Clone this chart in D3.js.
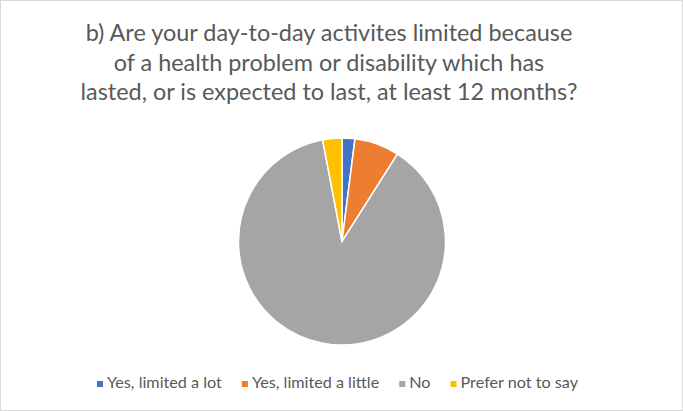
<!DOCTYPE html>
<html>
<head>
<meta charset="utf-8">
<script src="https://cdn.jsdelivr.net/npm/d3@7"></script>
<style>
  body { margin: 0; background: #fff; }
  svg { display: block; font-family: Lato, "Open Sans", sans-serif; }
</style>
</head>
<body>
<svg id="chart"></svg>
<script>
const categories = ["Yes, limited a lot", "Yes, limited a little", "No", "Prefer not to say"];
const values = [2, 7, 88, 3];
const colors = ["#4472c4", "#ed7d31", "#a5a5a5", "#ffc000"];
const titleLines = [
  "b) Are your day-to-day activites limited because",
  "of a health problem or disability which has",
  "lasted, or is expected to last, at least 12 months?"
];

const width = 683, height = 411;
const svg = d3.select("#chart").attr("width", width).attr("height", height);

// frame
svg.append("rect")
  .attr("x", 0.5).attr("y", 0.5)
  .attr("width", width - 1).attr("height", height - 1)
  .attr("fill", "#fff").attr("stroke", "#d9d9d9");

// title
const title = svg.append("g").attr("fill", "#595959").attr("text-anchor", "middle");
const tl = title.selectAll("text")
  .data(titleLines)
  .join("text")
  .attr("x", 329)
  .attr("y", (d, i) => 41 + i * 29.5)
  .style("font-size", "20px")
  .text(d => d);
// fit first line to the reference width
const w0 = tl.node().getComputedTextLength();
tl.style("font-size", (20 * 487 / w0) + "px");

// pie
const cx = 342, cy = 241.5, r = 103.5;
const pie = d3.pie().sort(null).value(d => d.v);
const arc = d3.arc().innerRadius(0).outerRadius(r);
const data = categories.map((c, i) => ({ c, v: values[i], col: colors[i] }));

svg.append("g")
  .attr("transform", `translate(${cx},${cy})`)
  .selectAll("path")
  .data(pie(data))
  .join("path")
  .attr("d", arc)
  .attr("fill", d => d.data.col)
  .attr("stroke", "#fff")
  .attr("stroke-width", 1.5);

// legend
const legend = svg.append("g").attr("transform", "translate(0,387.5)");
const items = legend.selectAll("g")
  .data(data)
  .join("g");
items.append("rect")
  .attr("x", 0).attr("y", -6.5)
  .attr("width", 6).attr("height", 6)
  .attr("fill", d => d.col);
const lt = items.append("text")
  .attr("x", 10)
  .attr("fill", "#595959")
  .style("font-size", "13px")
  .text(d => d.c);
const lw0 = lt.node().getComputedTextLength();
lt.style("font-size", (13 * 115 / lw0) + "px");

let widths = [];
items.each(function() { widths.push(10 + d3.select(this).select("text").node().getComputedTextLength()); });
const legendSpan = 481;
const gap = (legendSpan - d3.sum(widths)) / (widths.length - 1);
let xpos = 97;
items.attr("transform", (d, i) => {
  const t = `translate(${xpos},0)`;
  xpos += widths[i] + gap;
  return t;
});
</script>
</body>
</html>
